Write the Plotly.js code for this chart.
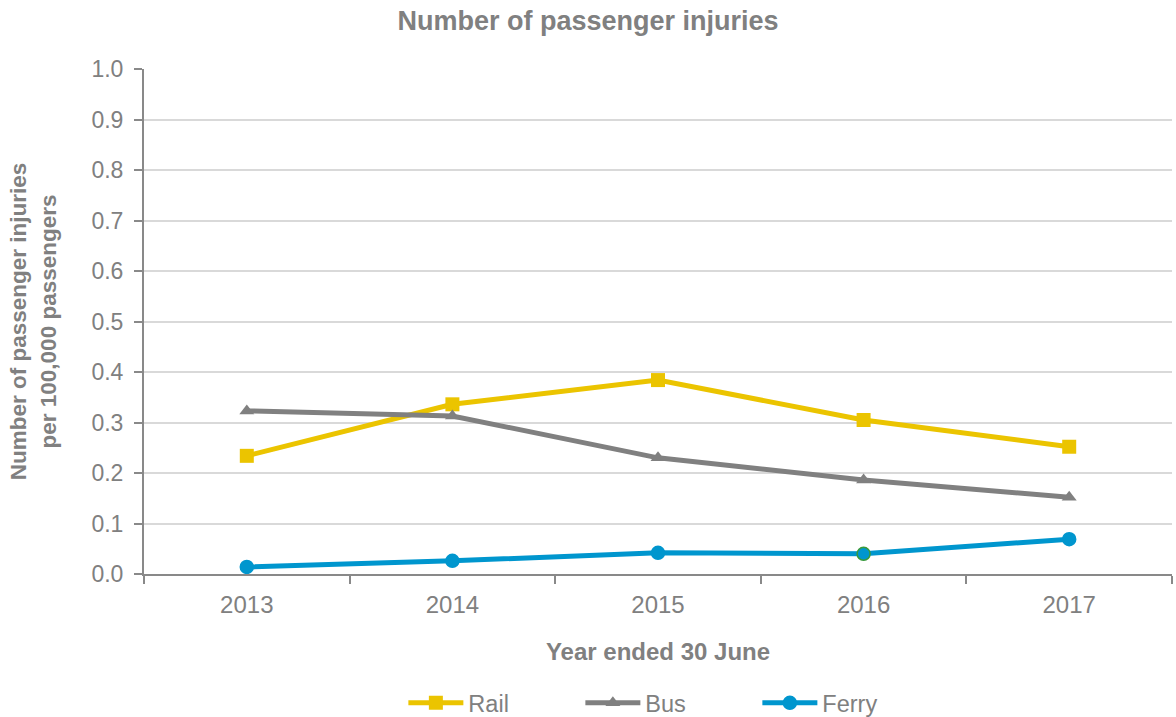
<!DOCTYPE html>
<html><head><meta charset="utf-8">
<script src="https://cdn.plot.ly/plotly-3.0.1.min.js"></script>
<style>html,body{margin:0;padding:0;background:#fff}</style>
</head><body><div id="chart" style="width:1176px;height:717px"></div>
<script>
const years = ["2013", "2014", "2015", "2016", "2017"];
const rail = [0.234, 0.336, 0.384, 0.305, 0.252];
const bus = [0.323, 0.313, 0.230, 0.186, 0.152];
const ferry = [0.014, 0.026, 0.042, 0.040, 0.069];
const yTicks = [0, 0.1, 0.2, 0.3, 0.4, 0.5, 0.6, 0.7, 0.8, 0.9, 1.0];

const grey = "#898989";
const textGrey = "#808080";
const traces = [
  {x: years, y: rail, name: "Rail", mode: "lines+markers", type: "scatter",
   line: {color: "#EBC400", width: 5}, marker: {symbol: "square", size: 14, color: "#EBC400"}},
  {x: years, y: bus, name: "Bus", mode: "lines+markers", type: "scatter",
   line: {color: "#808080", width: 5}, marker: {symbol: "triangle-up", size: 13, color: "#808080"}},
  {x: years, y: ferry, name: "Ferry", mode: "lines+markers", type: "scatter",
   line: {color: "#0096CE", width: 5},
   marker: {symbol: "circle", size: 13, color: "#0096CE",
            line: {color: ["#0096CE", "#0096CE", "#0096CE", "#3A9A3A", "#0096CE"], width: 1.5}}}
];
const layout = {
  width: 1176, height: 717,
  margin: {l: 144, r: 4, t: 69, b: 143},
  paper_bgcolor: "#fff", plot_bgcolor: "#fff",
  font: {family: "Liberation Sans, Arial, sans-serif", color: textGrey, size: 23},
  title: {text: "<b>Number of passenger injuries</b>", x: 0.5, xref: "container", xanchor: "center",
          y: 0.972, yanchor: "middle", font: {size: 27, color: textGrey}},
  xaxis: {type: "category", range: [-0.5, 4.5], tickson: "boundaries", ticks: "outside", ticklen: 8,
          tickcolor: grey, tickwidth: 1.5, showline: true, linecolor: grey, linewidth: 2, showgrid: false,
          tickfont: {size: 24, color: textGrey}, ticklabelstandoff: 8,
          title: {text: "<b>Year ended 30 June</b>", standoff: 26, font: {size: 24, color: textGrey}}},
  yaxis: {range: [0, 1.0], tickvals: yTicks, ticktext: yTicks.map(v => v.toFixed(1)),
          ticks: "outside", ticklen: 8, tickcolor: grey, tickwidth: 1.5, showline: true, linecolor: grey, linewidth: 2,
          gridcolor: "#D9D9D9", gridwidth: 1.5, zeroline: false, tickfont: {size: 23, color: textGrey},
          ticklabelstandoff: 6,
          title: {text: "<b>Number of passenger injuries<br>per 100,000 passengers</b>", standoff: 29,
                  font: {size: 22.5, color: textGrey}}},
  legend: {orientation: "h", x: 0.343, xanchor: "left", xref: "container", y: 0.0195, yref: "container", yanchor: "middle",
           font: {size: 23.5, color: textGrey}, itemwidth: 55, entrywidth: 107, traceorder: "normal"},
  showlegend: true
};
Plotly.newPlot("chart", traces, layout, {displayModeBar: false});
</script></body></html>
